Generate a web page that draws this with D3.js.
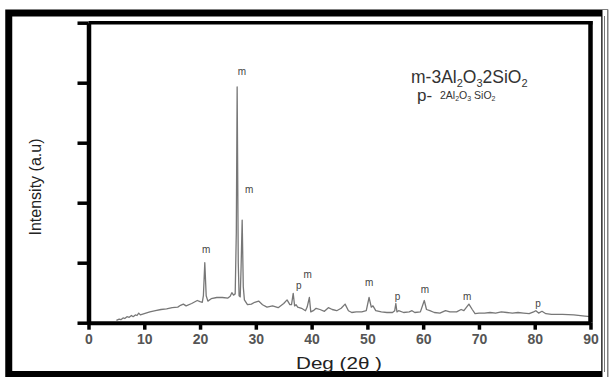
<!DOCTYPE html>
<html><head><meta charset="utf-8">
<script src="https://cdn.jsdelivr.net/npm/d3@7"></script>
<style>body{margin:0;background:#fff}svg{display:block}</style>
</head><body>
<script>
const twoTheta = [5.0,5.5,5.8,6.2,6.5,6.9,7.3,7.7,8.0,8.4,8.7,9.0,9.3,10,11,12,13,14,15,16,16.5,17,17.5,18.5,19.5,20.0,20.4,20.6,20.85,21.1,21.4,22,23,24,25,25.4,25.7,26.0,26.3,26.5,26.65,26.85,27.0,27.2,27.35,27.55,27.75,27.95,28.5,29.2,29.8,30.5,31.2,32,33,34,35,35.6,36.1,36.4,36.7,36.95,37.2,37.5,38.2,38.9,39.2,39.6,39.85,40.3,40.8,41.5,42.3,43,43.7,44.5,45.3,46.0,46.6,47.2,48,49,49.8,50.3,50.7,51,51.5,52.5,53.5,54.5,54.9,55.1,55.3,55.6,56.5,57.5,58,58.5,59.5,60.2,60.6,61.2,62,63,64,64.8,66,66.8,67.3,68.2,68.8,69.3,70,71,72,73,74,75,76,77,78,79,79.8,80.2,80.7,81.3,82,83,85,87,89,90];
const intensity = [0.04,0.06,0.05,0.08,0.07,0.10,0.09,0.12,0.10,0.13,0.12,0.16,0.13,0.15,0.18,0.20,0.22,0.23,0.25,0.26,0.29,0.31,0.28,0.32,0.37,0.35,0.34,0.45,1.0,0.45,0.36,0.40,0.42,0.42,0.41,0.44,0.50,0.46,0.48,1.5,3.93,1.0,0.45,0.43,0.9,1.71,0.6,0.38,0.30,0.31,0.34,0.36,0.30,0.26,0.28,0.25,0.32,0.38,0.30,0.30,0.49,0.28,0.30,0.26,0.24,0.20,0.26,0.42,0.18,0.20,0.24,0.22,0.19,0.25,0.22,0.20,0.24,0.31,0.20,0.17,0.18,0.18,0.20,0.42,0.26,0.28,0.20,0.18,0.17,0.17,0.20,0.32,0.18,0.20,0.17,0.18,0.20,0.17,0.18,0.37,0.22,0.20,0.17,0.16,0.20,0.18,0.18,0.22,0.20,0.31,0.22,0.15,0.16,0.16,0.17,0.16,0.18,0.17,0.16,0.17,0.16,0.15,0.18,0.20,0.16,0.19,0.15,0.14,0.14,0.13,0.11,0.10];

const peakLabelText = ["m","m","m","p","m","m","p","m","m","p"];
const peakLabelDeg  = [27.5,28.8,21.1,37.7,39.3,50.3,55.4,60.3,67.9,80.6];
const peakLabelInt  = [4.18,2.21,1.20,0.60,0.79,0.66,0.42,0.54,0.43,0.31];

const xTicks = [0,10,20,30,40,50,60,70,80,90];
const yTicks = [0,1,2,3,4,5];

const legendM = [["m-3Al",0],["2",1],["O",0],["3",1],["2SiO",0],["2",1]];
const legendP = [["2Al",0],["2",1],["O",0],["3",1],[" SiO",0],["2",1]];

const W = 609, H = 377;
const svg = d3.select("body").append("svg").attr("width", W).attr("height", H);
const ff = "Liberation Sans, Arial, sans-serif";

// outer frame
svg.append("rect").attr("x",8.75).attr("y",13).attr("width",596).attr("height",361.5)
  .attr("fill","none").attr("stroke","#000").attr("stroke-width",7);
svg.append("line").attr("x1",605).attr("x2",605).attr("y1",10).attr("y2",377)
  .attr("stroke","#fff").attr("stroke-width",5);
svg.append("line").attr("x1",604.5).attr("x2",604.5).attr("y1",16).attr("y2",372)
  .attr("stroke","#777").attr("stroke-width",1);

const x = d3.scaleLinear().domain([0,90]).range([88.5,590.5]);
const y = d3.scaleLinear().domain([0,5]).range([322.7,22.7]);

// curve
const line = d3.line().x((d,i)=>x(twoTheta[i])).y((d,i)=>y(intensity[i]));
svg.append("path").datum(intensity).attr("d",line)
  .attr("fill","none").attr("stroke","#777").attr("stroke-width",1.3).attr("stroke-linejoin","round");

// plot frame top and right
svg.append("line").attr("x1",x(0)).attr("x2",x(90)+2).attr("y1",y(5)).attr("y2",y(5))
  .attr("stroke","#000").attr("stroke-width",3.5);
svg.append("line").attr("x1",x(90)).attr("x2",x(90)).attr("y1",y(5)-1.75).attr("y2",y(0))
  .attr("stroke","#000").attr("stroke-width",4.5);

// axes
const xAxis = d3.axisBottom(x).tickValues(xTicks).tickSize(7).tickSizeOuter(0).tickPadding(4);
const gx = svg.append("g").attr("transform",`translate(0,${y(0)})`).call(xAxis);
gx.select(".domain").attr("stroke","#000").attr("stroke-width",4);
gx.selectAll(".tick line").attr("stroke","#000").attr("stroke-width",3.5);
gx.selectAll(".tick text").attr("font-family",ff)
  .attr("font-size",14).attr("font-weight","bold").attr("fill","#555");

const yAxis = d3.axisLeft(y).tickValues(yTicks).tickSize(11).tickSizeOuter(0).tickFormat("");
const gy = svg.append("g").attr("transform",`translate(${x(0)},0)`).call(yAxis);
gy.select(".domain").attr("stroke","#000").attr("stroke-width",4.5);
gy.selectAll(".tick line").attr("stroke","#000").attr("stroke-width",3.5);

// axis titles
svg.append("text").attr("x",339).attr("y",368.5).attr("text-anchor","middle")
  .attr("font-family",ff).attr("font-size",17).attr("fill","#222")
  .attr("textLength",86).attr("lengthAdjust","spacingAndGlyphs")
  .text("Deg (2θ )");
svg.append("text").attr("transform","translate(41,187) rotate(-90)").attr("text-anchor","middle")
  .attr("font-family",ff).attr("font-size",16).attr("fill","#222")
  .text("Intensity (a.u)");

// peak labels
svg.append("g").selectAll("text").data(peakLabelText).join("text")
  .attr("x",(d,i)=>x(peakLabelDeg[i])).attr("y",(d,i)=>y(peakLabelInt[i]))
  .attr("text-anchor","middle").attr("dominant-baseline","middle")
  .attr("font-family",ff).attr("font-size",10).attr("fill","#444")
  .text(d=>d);

// legend
function formula(parent, parts, big, small, shift){
  let prevSub = 0;
  parts.forEach(([s,sub])=>{
    const dy = (sub ? shift : 0) - (prevSub ? shift : 0);
    parent.append("tspan").attr("font-size", sub?small:big).attr("dy", dy).text(s);
    prevSub = sub;
  });
}
const t1 = svg.append("text").attr("x",411).attr("y",83).attr("font-family",ff).attr("fill","#333");
formula(t1, legendM, 17.5, 11, 4);
svg.append("text").attr("x",417).attr("y",101).attr("font-family",ff).attr("font-size",17).attr("fill","#333").text("p-");
const t3 = svg.append("text").attr("x",440).attr("y",98.5).attr("font-family",ff).attr("fill","#333");
formula(t3, legendP, 10.5, 7, 2);
</script>
</body></html>
